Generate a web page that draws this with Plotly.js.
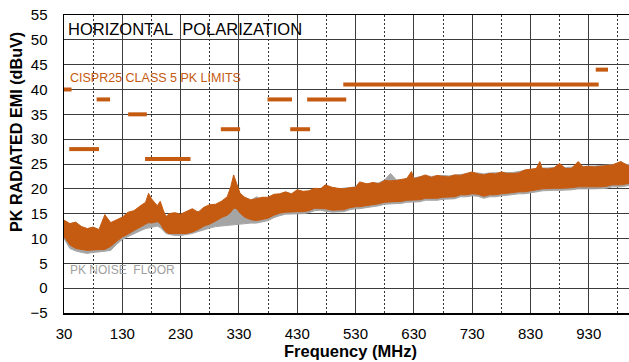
<!DOCTYPE html>
<html>
<head>
<meta charset="utf-8">
<script src="https://cdn.plot.ly/plotly-3.0.1.min.js"></script>
<style>
html,body{margin:0;padding:0;background:#fff;}
#chart{width:629px;height:362px;}
</style>
</head>
<body>
<div id="chart"></div>
<script>
// Frequency grid (MHz)
const freq = [
  30,40,50,60,70,80,90,100,110,120,
  130,140,150,160,170,175,180,190,195,200,
  205,210,220,230,240,250,260,270,280,290,
  300,310,316,321,326,332,340,350,360,370,
  380,390,400,410,420,430,440,450,460,470,
  478,490,500,510,520,530,537,550,560,570,
  580,590,600,610,618,626,630,640,650,660,
  670,680,690,700,710,720,730,740,750,760,
  770,780,790,800,810,820,830,840,846,850,
  860,870,880,890,900,912,920,930,940,950,
  960,970,985,1000
];
// Measured PK emission: upper / lower envelope (dBuV)
const emiUpper = [
  13.7,13.0,13.3,12.4,12.0,12.3,11.8,14.8,13.2,13.8,
  14.3,15.3,15.6,16.5,17.3,19.1,18.0,16.6,17.5,15.8,
  14.3,15.0,15.2,14.9,15.5,16.0,15.3,16.3,16.8,16.9,
  17.5,18.4,20.4,22.8,21.1,19.1,18.3,17.8,18.0,18.3,
  18.3,18.9,19.0,19.4,19.0,19.8,19.5,19.6,20.1,20.0,
  20.8,20.3,20.1,20.0,20.2,20.3,21.4,21.0,21.3,21.0,
  21.7,21.6,21.7,21.9,22.1,23.5,22.0,22.4,22.8,22.3,
  22.7,22.5,22.4,22.8,22.7,23.1,23.4,23.0,22.8,23.1,
  23.0,23.4,23.1,23.1,23.2,23.8,24.0,24.1,25.5,24.1,
  24.0,24.2,25.1,24.1,24.1,25.5,24.4,24.5,24.4,24.5,
  24.6,24.8,25.5,24.5
];
const emiLower = [
  10.4,8.7,8.0,7.8,7.6,7.7,7.8,7.8,8.4,9.4,
  10.3,10.9,11.6,12.3,12.9,13.2,13.1,13.4,13.0,12.0,
  11.3,11.0,11.0,11.0,11.0,11.3,11.8,12.5,12.9,13.5,
  14.2,14.7,15.3,16.1,16.0,15.1,14.3,13.8,13.6,13.8,
  14.1,14.7,15.1,15.3,15.4,15.4,15.4,15.6,16.1,16.1,
  16.0,15.7,15.7,15.8,16.2,16.4,16.4,16.7,16.8,17.0,
  17.3,17.4,17.4,17.5,17.7,17.8,17.8,17.8,18.1,18.1,
  18.1,18.3,18.4,18.4,18.8,18.8,19.0,18.9,18.5,18.8,
  18.8,19.0,19.1,19.2,19.4,19.4,19.7,19.8,19.9,20.0,
  20.1,20.1,20.1,20.1,20.2,20.4,20.4,20.4,20.4,20.4,
  20.5,20.8,20.8,21.1
];
// PK noise floor: upper / lower envelope (dBuV)
const floorUpper = [
  13.0,12.5,12.5,12.0,11.5,11.8,11.5,12.0,12.8,13.2,
  13.8,14.6,15.2,15.6,16.0,16.4,16.2,16.0,15.8,15.0,
  14.6,14.4,14.5,14.6,15.0,15.2,15.3,15.6,15.8,16.0,
  16.4,16.8,17.0,17.4,17.2,17.0,17.8,17.6,18.4,17.8,
  18.0,18.6,18.8,19.0,18.8,19.4,19.3,19.4,19.8,19.8,
  20.2,20.2,20.0,20.1,20.3,20.4,20.6,21.0,21.1,21.2,
  21.8,23.1,21.8,21.8,22.0,22.2,22.2,22.4,22.6,22.5,
  22.6,22.7,22.6,22.8,22.9,23.0,23.2,23.2,23.0,23.2,
  23.2,23.3,23.3,23.3,23.5,23.7,23.9,24.1,24.2,24.2,
  24.2,24.3,24.4,24.3,24.4,24.5,24.6,24.6,24.6,24.7,
  24.8,24.9,25.0,24.9
];
const floorLower = [
  10.0,8.0,7.5,7.2,7.0,7.2,7.3,7.4,7.6,8.8,
  9.8,10.4,11.0,11.5,12.0,12.2,12.3,12.5,12.2,11.6,
  11.0,10.8,10.6,10.6,10.8,11.0,11.4,11.8,12.1,12.4,
  12.5,12.6,12.7,12.8,12.8,12.8,13.0,13.1,13.1,13.3,
  13.6,14.2,14.6,14.9,15.0,15.0,15.0,15.2,15.6,15.7,
  15.5,15.3,15.3,15.4,15.8,16.0,16.0,16.3,16.4,16.6,
  16.9,17.0,17.0,17.1,17.3,17.4,17.4,17.4,17.7,17.7,
  17.7,17.9,18.0,18.0,18.4,18.4,18.6,18.5,18.1,18.4,
  18.4,18.6,18.7,18.8,19.0,19.0,19.3,19.4,19.5,19.6,
  19.7,19.7,19.7,19.7,19.8,20.0,20.0,20.0,20.0,20.0,
  20.1,20.4,20.4,20.7
];
// CISPR25 Class 5 PK limit segments
const limitStart = [30, 39, 86, 140, 169, 299, 379, 418, 447, 509, 942];
const limitEnd   = [43, 90, 109, 172, 247, 332, 421, 452, 514, 947, 963];
const limitLevel = [40, 28, 38, 35, 26, 32, 38, 32, 38, 41, 44];

const ORANGE = '#C55A11';
const GRAY = '#A5A5A5';
const FONT = 'Liberation Sans, Arial, sans-serif';

function band(up, lo) {
  return {
    x: freq.concat(freq.slice().reverse()),
    y: up.concat(lo.slice().reverse())
  };
}
const gBand = band(floorUpper, floorLower);
const oBand = band(emiUpper, emiLower);

const limX = [], limY = [];
for (let i = 0; i < limitStart.length; i++) {
  limX.push(limitStart[i], limitEnd[i], null);
  limY.push(limitLevel[i], limitLevel[i], null);
}

const traces = [
  {type:'scatter', mode:'lines', x:gBand.x, y:gBand.y, fill:'toself',
   fillcolor:GRAY, line:{color:GRAY, width:1}, hoverinfo:'skip', showlegend:false},
  {type:'scatter', mode:'lines', x:oBand.x, y:oBand.y, fill:'toself',
   fillcolor:ORANGE, line:{color:ORANGE, width:1}, hoverinfo:'skip', showlegend:false},
  {type:'scatter', mode:'lines', x:limX, y:limY, connectgaps:false,
   line:{color:ORANGE, width:4}, hoverinfo:'skip', showlegend:false}
];

const plotL = 64, plotR = 629, plotT = 15, plotB = 313;
const W = plotR - plotL, H = plotB - plotT;
const px2x = p => (p - plotL) / W;
const px2y = p => (plotB - p) / H;

const layout = {
  width: 629, height: 362,
  margin: {l: plotL, r: 629 - plotR, t: plotT, b: 362 - plotB, pad: 0},
  paper_bgcolor: '#fff', plot_bgcolor: '#fff',
  font: {family: FONT, color: '#000', size: 15},
  showlegend: false,
  xaxis: {
    range: [30, 999], tick0: 30, dtick: 100, tickmode: 'linear',
    showgrid: true, gridcolor: '#3c3c3c', gridwidth: 1,
    minor: {tick0: 30, dtick: 50, showgrid: true, gridcolor: '#333', griddash: '2px,2px', gridwidth: 1},
    showline: true, linecolor: '#000', linewidth: 1.5, mirror: true,
    zeroline: false, ticks: '', tickfont: {size: 15, color: '#000', family: FONT},
    ticklabelstandoff: 6,
    automargin: false
  },
  yaxis: {
    range: [-5, 55], tick0: -5, dtick: 5, tickmode: 'linear',
    showgrid: true, gridcolor: '#3c3c3c', gridwidth: 1,
    showline: true, linecolor: '#000', linewidth: 1.5,
    zeroline: false, ticks: '', tickfont: {size: 15, color: '#000', family: FONT},
    ticklabelstandoff: 12,
    automargin: false
  },
  shapes: [
    {type:'rect', xref:'paper', yref:'paper', x0:0, x1:px2x(305), y0:px2y(38), y1:1,
     fillcolor:'#fff', line:{width:0}, layer:'between'},
    {type:'rect', xref:'paper', yref:'paper', x0:0, x1:px2x(245), y0:px2y(88), y1:px2y(66),
     fillcolor:'#fff', line:{width:0}, layer:'between'},
    {type:'rect', xref:'paper', yref:'paper', x0:0, x1:px2x(182), y0:px2y(280), y1:px2y(258),
     fillcolor:'#fff', line:{width:0}, layer:'between'}
  ],
  annotations: [
    {xref:'paper', yref:'paper', x:px2x(66), y:px2y(28.5), xanchor:'left', yanchor:'middle',
     text:'HORIZONTAL\u00a0 POLARIZATION', showarrow:false,
     font:{size:16.5, family:FONT, color:'#000'}},
    {xref:'paper', yref:'paper', x:px2x(68), y:px2y(78), xanchor:'left', yanchor:'middle',
     text:'CISPR25 CLASS 5 PK LIMITS', showarrow:false,
     font:{size:12.5, family:FONT, color:ORANGE}},
    {xref:'paper', yref:'paper', x:px2x(68), y:px2y(269.5), xanchor:'left', yanchor:'middle',
     text:'PK NOISE\u00a0 FLOOR', showarrow:false,
     font:{size:12, family:FONT, color:'#A0A0A0'}},
    {xref:'paper', yref:'paper', x:px2x(350), y:px2y(351), xanchor:'center', yanchor:'middle',
     text:'Frequency (MHz)', showarrow:false,
     font:{size:16.5, family:FONT, color:'#000', weight:'bold'}},
    {xref:'paper', yref:'paper', x:px2x(16), y:px2y(132), xanchor:'center', yanchor:'middle',
     text:'PK RADIATED EMI (dBuV)', showarrow:false, textangle:-90,
     font:{size:16.2, family:FONT, color:'#000', weight:'bold'}}
  ]
};

Plotly.newPlot('chart', traces, layout, {staticPlot: true, displayModeBar: false});
</script>
</body>
</html>
